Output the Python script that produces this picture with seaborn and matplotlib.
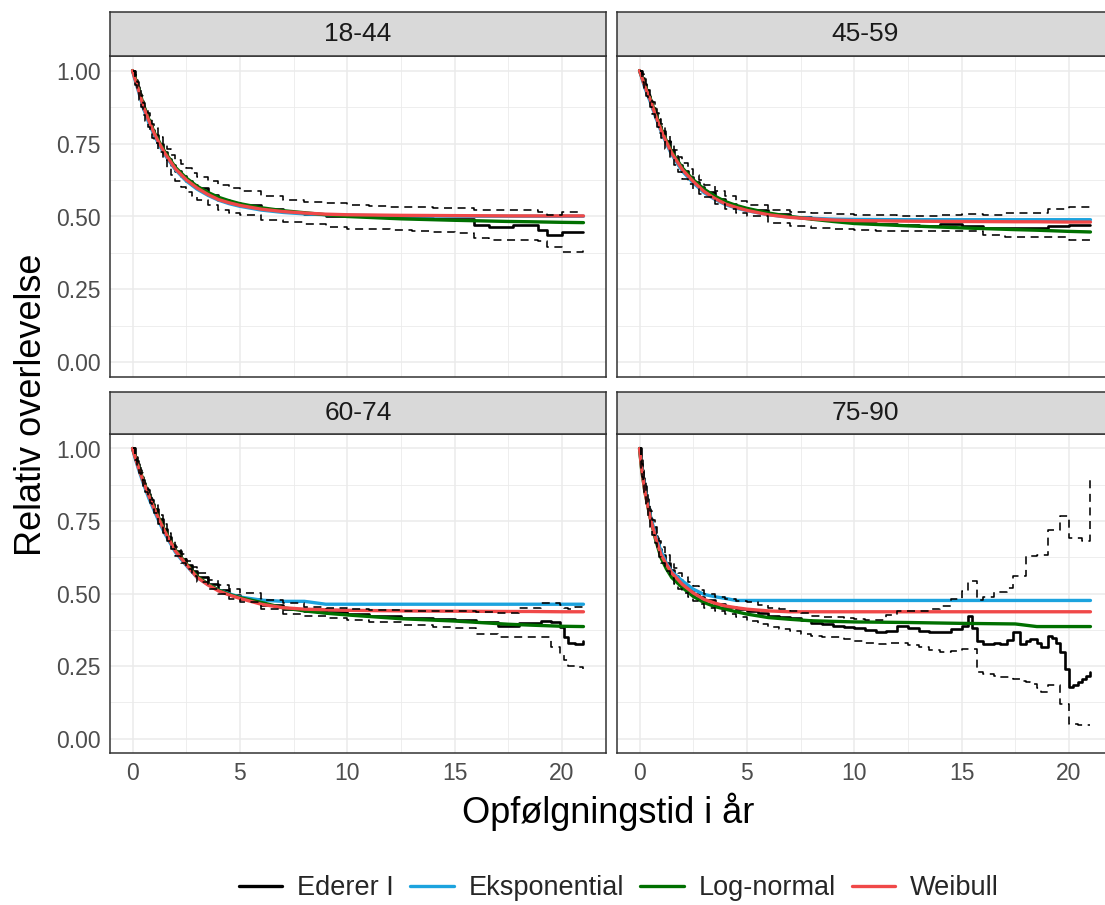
import numpy as np
import pandas as pd
import matplotlib
matplotlib.use("Agg")
import matplotlib.pyplot as plt
from matplotlib.lines import Line2D
import seaborn as sns

sns.set_style("white")
plt.rcParams['font.family'] = ['Liberation Sans', 'DejaVu Sans']

groups = ["18-44", "45-59", "60-74", "75-90"]
model_names = ["Eksponential", "Log-normal", "Weibull"]
legend_labels = ["Ederer I", "Eksponential", "Log-normal", "Weibull"]
colors = {"Ederer I": "#000000", "Eksponential": "#1CA3DE",
          "Log-normal": "#007000", "Weibull": "#F04848"}

# time grid for fitted models (years)
t_model = [0, 0.1, 0.25, 0.5, 0.75, 1, 1.25, 1.5, 2, 2.5, 3, 3.5, 4, 4.5, 5,
           6, 7, 8, 9, 10, 12.5, 15, 17.5, 18.5, 20, 21]

# ---- 18-44 ----
exp_1844 = [1.0, 0.972, 0.935, 0.872, 0.822, 0.78, 0.744, 0.712, 0.66, 0.622, 0.594, 0.573, 0.556,
            0.544, 0.535, 0.522, 0.514, 0.509, 0.506, 0.504, 0.502, 0.501, 0.501, 0.501, 0.501, 0.501]
lnorm_1844 = [1.0, 0.98, 0.945, 0.885, 0.835, 0.79, 0.755, 0.722, 0.668, 0.632, 0.604, 0.583, 0.566,
              0.554, 0.544, 0.53, 0.52, 0.513, 0.506, 0.5, 0.492, 0.487, 0.483, 0.482, 0.48, 0.479]
weib_1844 = [1.0, 0.975, 0.94, 0.878, 0.83, 0.786, 0.75, 0.717, 0.663, 0.626, 0.598, 0.576, 0.558,
             0.547, 0.538, 0.525, 0.517, 0.512, 0.508, 0.506, 0.504, 0.503, 0.502, 0.502, 0.502, 0.502]
t_ed_1844 = [0, 0.1, 0.2, 0.3, 0.4, 0.5, 0.6, 0.7, 0.8, 0.9, 1.0, 1.2, 1.4, 1.6, 1.8, 2.0, 2.25, 2.5,
             2.75, 3, 3.5, 4, 4.5, 5,
             6, 7, 8, 9, 10, 11, 12, 13, 14, 15, 15.9, 16.6, 17.7, 18.9, 19.3, 20, 21]
ed_1844 = [1.0, 0.968, 0.945, 0.92, 0.895, 0.87, 0.85, 0.83, 0.81, 0.795, 0.778, 0.748, 0.722, 0.698,
           0.676, 0.656, 0.64, 0.622, 0.608, 0.596, 0.575, 0.558, 0.546, 0.538,
           0.525, 0.515, 0.508, 0.503, 0.5, 0.498, 0.496, 0.495, 0.493, 0.49, 0.471, 0.463, 0.470,
           0.455, 0.438, 0.446, 0.446]
hi_1844 = [1.0, 0.985, 0.962, 0.938, 0.914, 0.89, 0.872, 0.853, 0.834, 0.818, 0.802, 0.774, 0.75, 0.73,
           0.712, 0.695, 0.68, 0.665, 0.65, 0.637, 0.62, 0.609, 0.596, 0.586,
           0.569, 0.558, 0.551, 0.545, 0.540, 0.537, 0.534, 0.532, 0.53, 0.529, 0.521, 0.521, 0.521,
           0.514, 0.506, 0.514, 0.514]
lo_1844 = [1.0, 0.952, 0.928, 0.9, 0.874, 0.848, 0.826, 0.805, 0.785, 0.77, 0.752, 0.72, 0.692, 0.666,
           0.643, 0.62, 0.602, 0.585, 0.57, 0.557, 0.538, 0.523, 0.513, 0.506,
           0.489, 0.48, 0.475, 0.465, 0.457, 0.456, 0.454, 0.452, 0.448, 0.445, 0.426, 0.42, 0.42,
           0.415, 0.397, 0.378, 0.386]

# ---- 45-59 ----
exp_4559 = [1.0, 0.976, 0.94, 0.893, 0.84, 0.792, 0.75, 0.712, 0.655, 0.615, 0.582, 0.559, 0.541,
            0.529, 0.52, 0.506, 0.498, 0.494, 0.491, 0.49, 0.489, 0.489, 0.489, 0.489, 0.489, 0.489]
lnorm_4559 = [1.0, 0.98, 0.95, 0.905, 0.85, 0.802, 0.76, 0.722, 0.666, 0.626, 0.594, 0.57, 0.551,
              0.538, 0.528, 0.512, 0.5, 0.491, 0.483, 0.476, 0.468, 0.461, 0.455, 0.453, 0.449, 0.447]
weib_4559 = [1.0, 0.978, 0.945, 0.90, 0.845, 0.797, 0.755, 0.717, 0.66, 0.62, 0.586, 0.562, 0.543,
             0.531, 0.521, 0.506, 0.497, 0.492, 0.488, 0.486, 0.484, 0.483, 0.482, 0.482, 0.481, 0.481]
t_ed_4559 = [0, 0.1, 0.2, 0.3, 0.4, 0.5, 0.6, 0.7, 0.8, 0.9, 1.0, 1.2, 1.4, 1.6, 1.8, 2.0, 2.25, 2.5,
             2.75, 3, 3.5, 4, 4.5, 5,
             6, 7, 8, 9, 10, 11, 12, 13, 14, 15, 16, 17, 18, 19, 20, 21]
ed_4559 = [1.0, 0.975, 0.955, 0.932, 0.913, 0.895, 0.873, 0.851, 0.83, 0.81, 0.792, 0.758, 0.728,
           0.702, 0.678, 0.657, 0.636, 0.618, 0.6, 0.585, 0.561, 0.543, 0.53, 0.521,
           0.508, 0.498, 0.49, 0.484, 0.479, 0.475, 0.471, 0.466, 0.474, 0.466, 0.462, 0.462, 0.462,
           0.468, 0.47, 0.47]
hi_4559 = [1.0, 0.99, 0.972, 0.95, 0.932, 0.915, 0.894, 0.873, 0.853, 0.834, 0.816, 0.783, 0.754,
           0.728, 0.705, 0.683, 0.662, 0.643, 0.625, 0.609, 0.586, 0.569, 0.552, 0.54,
           0.523, 0.517, 0.512, 0.508, 0.506, 0.504, 0.502, 0.502, 0.505, 0.508, 0.505, 0.511, 0.511,
           0.525, 0.532, 0.54]
lo_4559 = [1.0, 0.96, 0.938, 0.914, 0.894, 0.875, 0.852, 0.829, 0.807, 0.786, 0.768, 0.733, 0.702,
           0.676, 0.652, 0.63, 0.61, 0.593, 0.578, 0.566, 0.543, 0.527, 0.512, 0.5,
           0.477, 0.466, 0.46, 0.456, 0.454, 0.452, 0.451, 0.45, 0.452, 0.449, 0.437, 0.431, 0.429,
           0.43, 0.418, 0.429]

# ---- 60-74 ----
exp_6074 = [1.0, 0.972, 0.935, 0.88, 0.83, 0.787, 0.745, 0.707, 0.642, 0.597, 0.556, 0.532, 0.512,
            0.499, 0.488, 0.477, 0.473, 0.473, 0.463, 0.463, 0.463, 0.463, 0.463, 0.463, 0.463, 0.463]
lnorm_6074 = [1.0, 0.978, 0.945, 0.89, 0.842, 0.798, 0.756, 0.718, 0.65, 0.603, 0.56, 0.533, 0.512,
              0.497, 0.486, 0.469, 0.451, 0.44, 0.432, 0.426, 0.413, 0.405, 0.394, 0.391, 0.387, 0.386]
weib_6074 = [1.0, 0.975, 0.94, 0.886, 0.838, 0.794, 0.752, 0.714, 0.646, 0.6, 0.556, 0.53, 0.509,
             0.495, 0.483, 0.463, 0.451, 0.446, 0.444, 0.442, 0.44, 0.439, 0.438, 0.438, 0.437, 0.437]
t_ed_6074 = [0, 0.1, 0.2, 0.3, 0.4, 0.5, 0.6, 0.7, 0.8, 0.9, 1.0, 1.2, 1.4, 1.6, 1.8, 2.0, 2.25, 2.5,
             2.75, 3, 3.5, 4, 4.5, 5,
             6, 7, 8, 9, 10, 11, 12.5, 14, 15, 16, 17, 18, 19, 19.5, 19.9, 20.1, 20.3, 20.6, 21]
ed_6074 = [1.0, 0.972, 0.948, 0.926, 0.903, 0.882, 0.862, 0.843, 0.825, 0.807, 0.79, 0.756, 0.724,
           0.695, 0.668, 0.645, 0.62, 0.598, 0.577, 0.558, 0.533, 0.512, 0.496, 0.482,
           0.462, 0.446, 0.44, 0.435, 0.429, 0.424, 0.417, 0.412, 0.408, 0.403, 0.389, 0.398, 0.406,
           0.401, 0.386, 0.349, 0.331, 0.326, 0.337]
hi_6074 = [1.0, 0.98, 0.958, 0.936, 0.914, 0.893, 0.874, 0.856, 0.838, 0.821, 0.804, 0.771, 0.739,
           0.71, 0.683, 0.66, 0.635, 0.613, 0.592, 0.571, 0.548, 0.531, 0.515, 0.502,
           0.479, 0.468, 0.455, 0.449, 0.446, 0.444, 0.44, 0.44, 0.44, 0.437, 0.434, 0.45, 0.468,
           0.466, 0.46, 0.45, 0.445, 0.455, 0.463]
lo_6074 = [1.0, 0.962, 0.938, 0.915, 0.892, 0.871, 0.85, 0.83, 0.812, 0.793, 0.776, 0.741, 0.709,
           0.68, 0.653, 0.63, 0.605, 0.583, 0.561, 0.54, 0.516, 0.497, 0.481, 0.469,
           0.446, 0.431, 0.423, 0.415, 0.408, 0.402, 0.392, 0.386, 0.381, 0.36, 0.349, 0.349, 0.349,
           0.315, 0.29, 0.269, 0.251, 0.245, 0.24]

# ---- 75-90 ----
exp_7590 = [1.0, 0.935, 0.86, 0.77, 0.70, 0.646, 0.605, 0.575, 0.543, 0.515, 0.497, 0.489, 0.483,
            0.476, 0.476, 0.476, 0.476, 0.476, 0.476, 0.476, 0.476, 0.476, 0.476, 0.476, 0.476, 0.476]
lnorm_7590 = [1.0, 0.925, 0.85, 0.76, 0.685, 0.623, 0.585, 0.555, 0.52, 0.49, 0.469, 0.455, 0.446,
              0.437, 0.429, 0.417, 0.411, 0.406, 0.404, 0.402, 0.4, 0.397, 0.395, 0.386, 0.386, 0.386]
weib_7590 = [1.0, 0.93, 0.851, 0.76, 0.691, 0.634, 0.6, 0.571, 0.531, 0.502, 0.48, 0.467, 0.457,
             0.451, 0.446, 0.44, 0.437, 0.437, 0.437, 0.437, 0.437, 0.437, 0.437, 0.437, 0.437, 0.437]
t_ed_7590 = [0, 0.05, 0.1, 0.15, 0.2, 0.3, 0.4, 0.5, 0.6, 0.7, 0.8, 0.9, 1.0, 1.2, 1.4, 1.6, 1.8,
             2.0, 2.25, 2.5, 2.75, 3, 3.5, 4, 4.5, 5,
             5.5, 6, 6.5, 7, 7.5, 8, 8.5, 9, 9.5, 10, 10.5, 11, 11.5, 12, 12.5, 13, 13.5, 14, 14.5,
             15.0, 15.3, 15.5, 15.7, 16.0, 16.5, 16.8, 17.1, 17.4, 17.7, 18.0, 18.2, 18.5, 18.7,
             19.0, 19.2, 19.4, 19.6, 19.8, 20.0, 20.2, 20.4, 20.6, 20.8, 21]
ed_7590 = [1.0, 0.96, 0.925, 0.898, 0.872, 0.826, 0.79, 0.757, 0.728, 0.7, 0.676, 0.653, 0.632,
           0.604, 0.58, 0.561, 0.545, 0.53, 0.515, 0.5, 0.489, 0.478, 0.465, 0.455, 0.447, 0.44,
           0.432, 0.423, 0.42, 0.417, 0.408, 0.4, 0.395, 0.389, 0.385, 0.381, 0.375, 0.366, 0.372,
           0.389, 0.38, 0.371, 0.368, 0.366, 0.378,
           0.389, 0.423, 0.38, 0.337, 0.326, 0.331, 0.326, 0.34, 0.366, 0.326, 0.335, 0.343, 0.33,
           0.314,
           0.354, 0.345, 0.33, 0.30, 0.24, 0.177, 0.185, 0.195, 0.205, 0.217, 0.229]
hi_7590 = [1.0, 0.975, 0.945, 0.92, 0.895, 0.85, 0.815, 0.783, 0.755, 0.728, 0.704, 0.681, 0.66,
           0.632, 0.608, 0.589, 0.572, 0.556, 0.541, 0.526, 0.512, 0.5, 0.489, 0.48, 0.474, 0.469,
           0.46, 0.451, 0.445, 0.44, 0.432, 0.423, 0.42, 0.418, 0.415, 0.412, 0.41, 0.41, 0.425,
           0.44, 0.44, 0.44, 0.445, 0.457, 0.48,
           0.509, 0.543, 0.543, 0.477, 0.489, 0.504, 0.504, 0.52, 0.56, 0.56, 0.629, 0.629, 0.634,
           0.634,
           0.72, 0.72, 0.72, 0.766, 0.766, 0.691, 0.691, 0.691, 0.68, 0.68, 0.903]
lo_7590 = [1.0, 0.93, 0.9, 0.873, 0.848, 0.8, 0.764, 0.731, 0.701, 0.673, 0.648, 0.625, 0.604,
           0.576, 0.552, 0.533, 0.517, 0.503, 0.489, 0.474, 0.463, 0.451, 0.44, 0.429, 0.418, 0.406,
           0.395, 0.383, 0.377, 0.371, 0.362, 0.354, 0.351, 0.349, 0.343, 0.337, 0.331, 0.326, 0.328,
           0.331, 0.322, 0.314, 0.305, 0.297, 0.303,
           0.309, 0.309, 0.309, 0.229, 0.223, 0.215, 0.211, 0.211, 0.205, 0.2, 0.195, 0.189, 0.175,
           0.16,
           0.183, 0.183, 0.183, 0.12, 0.12, 0.051, 0.051, 0.046, 0.046, 0.046, 0.046]

x_ticks = [0, 5, 10, 15, 20]
y_ticks = [0.0, 0.25, 0.5, 0.75, 1.0]
y_ticklabels = ["0.00", "0.25", "0.50", "0.75", "1.00"]

panels = {
    "18-44": (exp_1844, lnorm_1844, weib_1844, t_ed_1844, ed_1844, hi_1844, lo_1844),
    "45-59": (exp_4559, lnorm_4559, weib_4559, t_ed_4559, ed_4559, hi_4559, lo_4559),
    "60-74": (exp_6074, lnorm_6074, weib_6074, t_ed_6074, ed_6074, hi_6074, lo_6074),
    "75-90": (exp_7590, lnorm_7590, weib_7590, t_ed_7590, ed_7590, hi_7590, lo_7590),
}

W, H = 1105, 905
fig = plt.figure(figsize=(W / 100, H / 100), dpi=100)
fig.patch.set_facecolor("white")

# panel pixel boxes: (left, top, right, bottom, strip top)
boxes = [(110, 56, 606, 377, 12), (617, 56, 1113, 377, 12),
         (110, 434, 606, 753, 392), (617, 434, 1113, 753, 392)]

def fbox(l, t, r, b):
    return [l / W, 1 - b / H, (r - l) / W, (b - t) / H]

border = "#333333"
for i, g in enumerate(groups):
    l, t, r, b, st = boxes[i]
    ax = fig.add_axes(fbox(l, t, r, b))
    sax = fig.add_axes(fbox(l, st, r, t))
    exp_v, ln_v, wb_v, t_ed, ed, hi, lo = panels[g]

    ax.set_xlim(-1.05, 22.05)
    ax.set_ylim(-0.05, 1.05)
    ax.set_xticks(x_ticks)
    ax.set_xticks([2.5, 7.5, 12.5, 17.5], minor=True)
    ax.set_yticks(y_ticks)
    ax.set_yticks([0.125, 0.375, 0.625, 0.875], minor=True)
    ax.grid(True, which="major", color="#EBEBEB", linewidth=1.1)
    ax.grid(True, which="minor", color="#EBEBEB", linewidth=0.6)
    ax.set_axisbelow(True)

    ed_df = pd.DataFrame({"t": t_ed, "est": ed, "hi": hi, "lo": lo})
    # Ederer I estimate (drawn first, under the model curves)
    sns.lineplot(data=ed_df, x="t", y="est", ax=ax, color="black", linewidth=1.9,
                 drawstyle="steps-post", estimator=None)

    mdf = pd.DataFrame({
        "t": t_model * 3,
        "value": exp_v + ln_v + wb_v,
        "model": ["Eksponential"] * len(t_model) + ["Log-normal"] * len(t_model)
                 + ["Weibull"] * len(t_model),
    })
    sns.lineplot(data=mdf, x="t", y="value", hue="model", hue_order=model_names,
                 palette=[colors[m] for m in model_names], linewidth=2.4,
                 estimator=None, ax=ax, legend=False)

    # confidence limits (dashed, on top)
    sns.lineplot(data=ed_df, x="t", y="hi", ax=ax, color="black", linewidth=1.15,
                 linestyle=(0, (5, 3.5)), drawstyle="steps-post", estimator=None)
    sns.lineplot(data=ed_df, x="t", y="lo", ax=ax, color="black", linewidth=1.15,
                 linestyle=(0, (5, 3.5)), drawstyle="steps-post", estimator=None)

    ax.set_xlabel("")
    ax.set_ylabel("")
    for s in ax.spines.values():
        s.set_color(border)
        s.set_linewidth(1.1)
    ax.tick_params(axis="both", which="major", length=3.2, width=0.9, color=border,
                   labelsize=16.5, labelcolor="#4D4D4D", pad=3.5)
    ax.tick_params(axis="both", which="minor", length=0)
    if i in (0, 2):
        ax.set_yticklabels(y_ticklabels)
    else:
        ax.set_yticklabels([])
    if i in (2, 3):
        ax.set_xticklabels([str(v) for v in x_ticks])
    else:
        ax.set_xticklabels([])

    sax.set_facecolor("#D9D9D9")
    sax.set_xticks([])
    sax.set_yticks([])
    for s in sax.spines.values():
        s.set_color(border)
        s.set_linewidth(1.1)
    sax.text(0.5, 0.5, g, ha="center", va="center", fontsize=19, color="#1A1A1A",
             transform=sax.transAxes)

fig.text(608 / W, 1 - 812 / H, "Opfølgningstid i år", ha="center", va="center",
         fontsize=26, color="black")
fig.text(32 / W, 1 - 405 / H, "Relativ overlevelse", ha="center", va="center",
         rotation=90, fontsize=26, color="black")

handles = [Line2D([], [], color=colors[n], linewidth=2.4) for n in legend_labels]
fig.legend(handles, legend_labels, loc="center", bbox_to_anchor=(619 / W, 1 - 888 / H),
           ncol=4, frameon=False, fontsize=19.5, handlelength=1.6, handletextpad=0.55,
           columnspacing=0.6, borderaxespad=0)

fig.savefig("out.png", dpi=100, facecolor="white")
